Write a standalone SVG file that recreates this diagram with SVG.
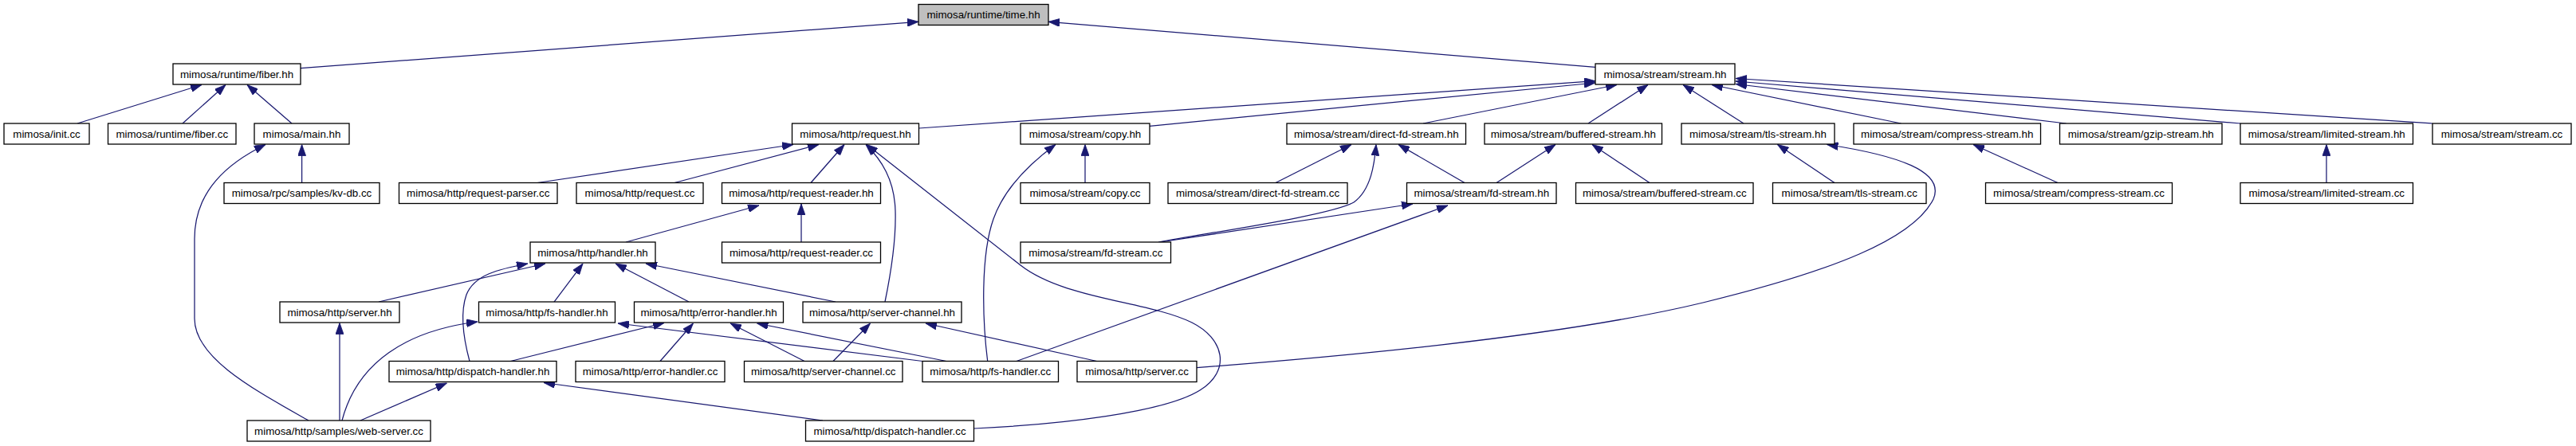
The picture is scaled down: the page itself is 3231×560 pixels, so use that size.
<svg xmlns="http://www.w3.org/2000/svg" width="3231" height="560" viewBox="0 0 3231 560">
<defs>
<style>
.node rect{fill:#ffffff;stroke:#000000;stroke-width:1.3}
.node.root rect{fill:#bfbfbf}
.node text{font-family:"Liberation Sans",Arial,Helvetica,sans-serif;font-size:13.33px;fill:#000000;text-anchor:middle}
.edges path{fill:none;stroke:#191970;stroke-width:1.25;marker-end:url(#arr)}
</style>
<marker id="arr" markerUnits="userSpaceOnUse" markerWidth="14" markerHeight="10" viewBox="0 0 14 10" refX="14" refY="5" orient="auto">
<path d="M0,0 L14,5 L0,10 z" fill="#191970" stroke="#191970" stroke-width="0.8"/>
</marker>
</defs>
<rect x="0" y="0" width="3231" height="560" fill="#ffffff"/>
<g id="edges" class="edges">
<path d="M377,85.7 L1152,27.3"/>
<path d="M2001,84.3 L1315,27.3"/>
<path d="M97,155 L253,106.5"/>
<path d="M229,155 L283,106.5"/>
<path d="M366,155 L310,106.5"/>
<path d="M378.6,229.5 L378.6,181.5"/>
<path d="M387,528 C320,490 244,450 244,400 L244,300 C244,240 285,205 333,181.5"/>
<path d="M1152.5,161 L2001,101.7"/>
<path d="M1442,158.3 L2001,104"/>
<path d="M1785,155 L2028,106.5"/>
<path d="M1992,155 L2067,106.5"/>
<path d="M2187,155 L2111,106.5"/>
<path d="M2384.5,155 L2147,106.5"/>
<path d="M2591.5,155 L2177,105.5"/>
<path d="M2810,155 L2177,102"/>
<path d="M3051,155 L2177,98.5"/>
<path d="M2918,229.5 L2918,181.5"/>
<path d="M2581,229.5 L2475,181.5"/>
<path d="M674,229.5 L995,181.5"/>
<path d="M846,229.5 L1027,181.5"/>
<path d="M1017,229.5 L1059,181.5"/>
<path d="M1110,379 C1118,340 1124,300 1123,265 C1122,225 1105,200 1086,181.5"/>
<path d="M1222,538 C1330,533 1460,518 1505,490 C1545,465 1535,425 1495,405 C1440,378 1335,376 1280,333 L1087,181.5"/>
<path d="M1361,229.5 L1361,181.5"/>
<path d="M1238.7,453.5 C1232,400 1230,320 1246,275 C1260,235 1292,205 1324,181.5"/>
<path d="M1600,229.5 L1695,181.5"/>
<path d="M1453,304 C1530,290 1670,270 1698,254 C1720,238 1724,205 1726,181.5"/>
<path d="M1837,229.5 L1754,181.5"/>
<path d="M1877,229.5 L1951,181.5"/>
<path d="M2069,229.5 L1997,181.5"/>
<path d="M2301,229.5 L2229.5,181.5"/>
<path d="M1501,461.7 C1650,450 1950,425 2136,380 C2300,340 2400,300 2425,250 C2440,215 2380,195 2291.5,181.5"/>
<path d="M1455,304 L1772,256"/>
<path d="M1275,453.5 L1816,258"/>
<path d="M1005,304 L1005,256"/>
<path d="M785,304 L952,258"/>
<path d="M475,379 L684,331"/>
<path d="M695,379 L731,331"/>
<path d="M864,379 L772,331"/>
<path d="M1048,379 L810,331"/>
<path d="M589,453.5 C580,420 578,390 585,370 C595,345 625,338 662,331"/>
<path d="M426,528 L426,405.5"/>
<path d="M429,528 C448,455 510,415 599,404"/>
<path d="M1157,453.5 L775,406"/>
<path d="M640.5,453.5 L833,405.5"/>
<path d="M828,453.5 L869.4,406"/>
<path d="M1009,453.5 L916,406"/>
<path d="M1187,453.5 L949.5,406"/>
<path d="M1045,453.5 L1091.5,406"/>
<path d="M1375.6,453.5 L1161,406"/>
<path d="M452,528 L560.5,481"/>
<path d="M1032,528 L682,480.5"/>
</g>
<g id="n_time_hh" class="node root"><rect x="1152" y="5.5" width="163" height="26"/><text x="1233.5" y="23">mimosa/runtime/time.hh</text></g>
<g id="n_fiber_hh" class="node"><rect x="217" y="80" width="160" height="26"/><text x="297" y="97.5">mimosa/runtime/fiber.hh</text></g>
<g id="n_stream_hh" class="node"><rect x="2001" y="80" width="175" height="26"/><text x="2088.5" y="97.5">mimosa/stream/stream.hh</text></g>
<g id="n_init_cc" class="node"><rect x="5" y="155" width="107" height="26"/><text x="58.5" y="172.5">mimosa/init.cc</text></g>
<g id="n_fiber_cc" class="node"><rect x="135.5" y="155" width="160.5" height="26"/><text x="215.75" y="172.5">mimosa/runtime/fiber.cc</text></g>
<g id="n_main_hh" class="node"><rect x="319" y="155" width="119" height="26"/><text x="378.5" y="172.5">mimosa/main.hh</text></g>
<g id="n_request_hh" class="node"><rect x="993.5" y="155" width="159" height="26"/><text x="1073" y="172.5">mimosa/http/request.hh</text></g>
<g id="n_copy_hh" class="node"><rect x="1280" y="155" width="162" height="26"/><text x="1361" y="172.5">mimosa/stream/copy.hh</text></g>
<g id="n_direct_fd_stream_hh" class="node"><rect x="1614" y="155" width="224.5" height="26"/><text x="1726.25" y="172.5">mimosa/stream/direct-fd-stream.hh</text></g>
<g id="n_buffered_stream_hh" class="node"><rect x="1862" y="155" width="222.5" height="26"/><text x="1973.25" y="172.5">mimosa/stream/buffered-stream.hh</text></g>
<g id="n_tls_stream_hh" class="node"><rect x="2109" y="155" width="192" height="26"/><text x="2205" y="172.5">mimosa/stream/tls-stream.hh</text></g>
<g id="n_compress_stream_hh" class="node"><rect x="2325" y="155" width="234.5" height="26"/><text x="2442.25" y="172.5">mimosa/stream/compress-stream.hh</text></g>
<g id="n_gzip_stream_hh" class="node"><rect x="2583.5" y="155" width="203.5" height="26"/><text x="2685.25" y="172.5">mimosa/stream/gzip-stream.hh</text></g>
<g id="n_limited_stream_hh" class="node"><rect x="2810" y="155" width="216.5" height="26"/><text x="2918.25" y="172.5">mimosa/stream/limited-stream.hh</text></g>
<g id="n_stream_cc" class="node"><rect x="3051" y="155" width="174" height="26"/><text x="3138" y="172.5">mimosa/stream/stream.cc</text></g>
<g id="n_kv_db_cc" class="node"><rect x="281" y="229.5" width="195" height="26"/><text x="378.5" y="247">mimosa/rpc/samples/kv-db.cc</text></g>
<g id="n_request_parser_cc" class="node"><rect x="500.5" y="229.5" width="198.5" height="26"/><text x="599.75" y="247">mimosa/http/request-parser.cc</text></g>
<g id="n_request_cc" class="node"><rect x="723" y="229.5" width="159" height="26"/><text x="802.5" y="247">mimosa/http/request.cc</text></g>
<g id="n_request_reader_hh" class="node"><rect x="905.5" y="229.5" width="199" height="26"/><text x="1005" y="247">mimosa/http/request-reader.hh</text></g>
<g id="n_copy_cc" class="node"><rect x="1280" y="229.5" width="162" height="26"/><text x="1361" y="247">mimosa/stream/copy.cc</text></g>
<g id="n_direct_fd_stream_cc" class="node"><rect x="1465" y="229.5" width="225" height="26"/><text x="1577.5" y="247">mimosa/stream/direct-fd-stream.cc</text></g>
<g id="n_fd_stream_hh" class="node"><rect x="1764.5" y="229.5" width="187.5" height="26"/><text x="1858.25" y="247">mimosa/stream/fd-stream.hh</text></g>
<g id="n_buffered_stream_cc" class="node"><rect x="1976.5" y="229.5" width="222.5" height="26"/><text x="2087.75" y="247">mimosa/stream/buffered-stream.cc</text></g>
<g id="n_tls_stream_cc" class="node"><rect x="2223.5" y="229.5" width="192.5" height="26"/><text x="2319.75" y="247">mimosa/stream/tls-stream.cc</text></g>
<g id="n_compress_stream_cc" class="node"><rect x="2490.5" y="229.5" width="234" height="26"/><text x="2607.5" y="247">mimosa/stream/compress-stream.cc</text></g>
<g id="n_limited_stream_cc" class="node"><rect x="2810" y="229.5" width="216.5" height="26"/><text x="2918.25" y="247">mimosa/stream/limited-stream.cc</text></g>
<g id="n_handler_hh" class="node"><rect x="665" y="304" width="157" height="26"/><text x="743.5" y="321.5">mimosa/http/handler.hh</text></g>
<g id="n_request_reader_cc" class="node"><rect x="905.5" y="304" width="199" height="26"/><text x="1005" y="321.5">mimosa/http/request-reader.cc</text></g>
<g id="n_fd_stream_cc" class="node"><rect x="1280" y="304" width="188.5" height="26"/><text x="1374.25" y="321.5">mimosa/stream/fd-stream.cc</text></g>
<g id="n_server_hh" class="node"><rect x="351" y="379" width="150" height="26"/><text x="426" y="396.5">mimosa/http/server.hh</text></g>
<g id="n_fs_handler_hh" class="node"><rect x="600.5" y="379" width="171" height="26"/><text x="686" y="396.5">mimosa/http/fs-handler.hh</text></g>
<g id="n_error_handler_hh" class="node"><rect x="795.5" y="379" width="187" height="26"/><text x="889" y="396.5">mimosa/http/error-handler.hh</text></g>
<g id="n_server_channel_hh" class="node"><rect x="1007" y="379" width="199" height="26"/><text x="1106.5" y="396.5">mimosa/http/server-channel.hh</text></g>
<g id="n_dispatch_handler_hh" class="node"><rect x="488" y="453.5" width="210" height="26"/><text x="593" y="471">mimosa/http/dispatch-handler.hh</text></g>
<g id="n_error_handler_cc" class="node"><rect x="722" y="453.5" width="187" height="26"/><text x="815.5" y="471">mimosa/http/error-handler.cc</text></g>
<g id="n_server_channel_cc" class="node"><rect x="933.5" y="453.5" width="198.5" height="26"/><text x="1032.75" y="471">mimosa/http/server-channel.cc</text></g>
<g id="n_fs_handler_cc" class="node"><rect x="1157" y="453.5" width="170.5" height="26"/><text x="1242.25" y="471">mimosa/http/fs-handler.cc</text></g>
<g id="n_server_cc" class="node"><rect x="1351" y="453.5" width="150" height="26"/><text x="1426" y="471">mimosa/http/server.cc</text></g>
<g id="n_web_server_cc" class="node"><rect x="310" y="528" width="230" height="26"/><text x="425" y="545.5">mimosa/http/samples/web-server.cc</text></g>
<g id="n_dispatch_handler_cc" class="node"><rect x="1010.5" y="528" width="211" height="26"/><text x="1116" y="545.5">mimosa/http/dispatch-handler.cc</text></g>
</svg>
